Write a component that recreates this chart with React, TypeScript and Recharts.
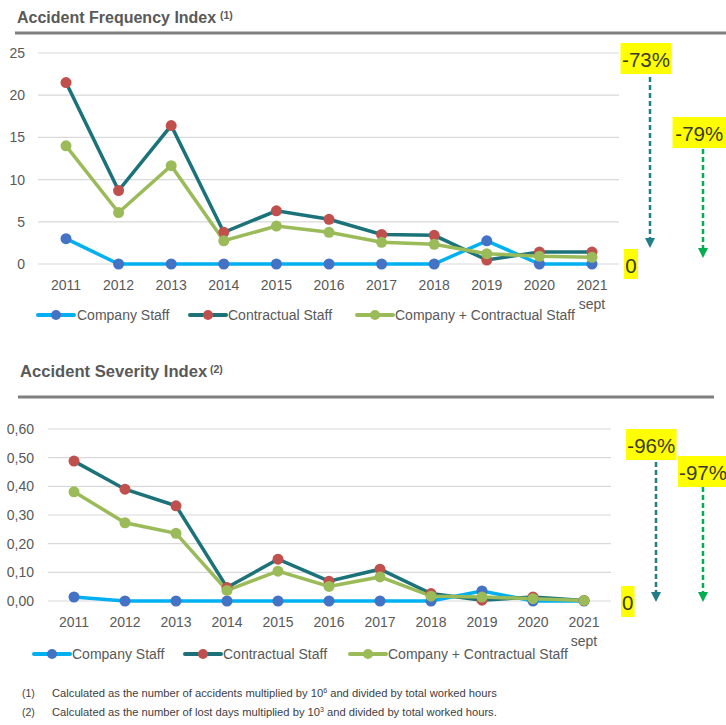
import React from 'react';
import { LineChart, Line, XAxis, YAxis, CartesianGrid } from 'recharts';

// ---------- data ----------
const years = ['2011', '2012', '2013', '2014', '2015', '2016', '2017', '2018', '2019', '2020', '2021'];
const yearSubLabels = ['', '', '', '', '', '', '', '', '', '', 'sept'];
const seriesNames = ['Company Staff', 'Contractual Staff', 'Company + Contractual Staff'];

const freqCompany = [3.0, 0, 0, 0, 0, 0, 0, 0, 2.75, 0, 0];
const freqContractual = [21.5, 8.7, 16.4, 3.75, 6.3, 5.3, 3.5, 3.4, 0.47, 1.42, 1.42];
const freqTotal = [14.0, 6.1, 11.65, 2.75, 4.5, 3.75, 2.57, 2.33, 1.22, 0.91, 0.8];
const freqTicks = [0, 5, 10, 15, 20, 25];

const sevCompany = [0.014, 0, 0, 0, 0, 0, 0, 0, 0.035, 0, 0];
const sevContractual = [0.488, 0.39, 0.332, 0.047, 0.146, 0.069, 0.111, 0.026, 0.003, 0.014, 0.002];
const sevTotal = [0.381, 0.273, 0.236, 0.037, 0.104, 0.051, 0.084, 0.017, 0.014, 0.008, 0.002];
const sevTicks = [0, 0.1, 0.2, 0.3, 0.4, 0.5, 0.6];

const freqTitle = 'Accident Frequency Index';
const sevTitle = 'Accident Severity Index';
const freqChanges = ['-73%', '-79%', '0'];
const sevChanges = ['-96%', '-97%', '0'];

// ---------- styles ----------
const FONT = '"Liberation Sans", Arial, sans-serif';
const TEXT = '#595959';
const C_COMPANY_LINE = '#00B0F0';
const C_COMPANY_DOT = '#4472C4';
const C_CONTR_LINE = '#1B7379';
const C_CONTR_DOT = '#C0504D';
const C_TOTAL = '#9BBB59';
const C_ARROW_TEAL = '#217D86';
const C_ARROW_GREEN = '#00B050';
const YELLOW = '#FFFF00';

const lineStyles = [
  { line: C_COMPANY_LINE, dot: C_COMPANY_DOT },
  { line: C_CONTR_LINE, dot: C_CONTR_DOT },
  { line: C_TOTAL, dot: C_TOTAL },
];

const freqData = years.map((y, i) => ({
  year: y,
  sub: yearSubLabels[i],
  company: freqCompany[i],
  contractual: freqContractual[i],
  total: freqTotal[i],
}));
const sevData = years.map((y, i) => ({
  year: y,
  sub: yearSubLabels[i],
  company: sevCompany[i],
  contractual: sevContractual[i],
  total: sevTotal[i],
}));
const keys = ['company', 'contractual', 'total'];

const YearTick = (props: any) => {
  const { x, y, payload, index } = props;
  const sub = yearSubLabels[index] || '';
  return (
    <g>
      <text x={x} y={y + 21} dy="0.35em" textAnchor="middle" fill={TEXT} fontSize={14} fontFamily={FONT}>
        {payload.value}
      </text>
      {sub ? (
        <text x={x} y={y + 40} dy="0.35em" textAnchor="middle" fill={TEXT} fontSize={14} fontFamily={FONT}>
          {sub}
        </text>
      ) : null}
    </g>
  );
};

const fmtComma = (v: number) => v.toFixed(2).replace('.', ',');

const renderLines = () =>
  keys.map((k, i) => (
    <Line
      key={k}
      type="linear"
      dataKey={k}
      name={seriesNames[i]}
      stroke={lineStyles[i].line}
      strokeWidth={3.5}
      dot={{ r: 5.5, fill: lineStyles[i].dot, stroke: 'none', strokeWidth: 0 }}
      activeDot={false}
      isAnimationActive={false}
    />
  ));

const LegendRow = ({ top, iconX, textX }: { top: number; iconX: number[]; textX: number[] }) => (
  <>
    {seriesNames.map((n, i) => (
      <React.Fragment key={n}>
        <svg style={{ position: 'absolute', left: iconX[i], top: top - 6 }} width={40} height={12}>
          <line x1={2} y1={6} x2={38} y2={6} stroke={lineStyles[i].line} strokeWidth={4} strokeLinecap="round" />
          <circle cx={20} cy={6} r={5} fill={lineStyles[i].dot} />
        </svg>
        <div
          style={{
            position: 'absolute',
            left: textX[i],
            top: top - 9,
            fontFamily: FONT,
            fontSize: 14,
            lineHeight: '18px',
            color: TEXT,
            whiteSpace: 'nowrap',
          }}
        >
          {n}
        </div>
      </React.Fragment>
    ))}
  </>
);

const Arrow = ({ x, y1, y2, color }: { x: number; y1: number; y2: number; color: string }) => (
  <g>
    <line x1={x} y1={y1} x2={x} y2={y2 - 9} stroke={color} strokeWidth={2.5} strokeDasharray="5 3" />
    <polygon points={`${x - 5},${y2 - 10} ${x + 5},${y2 - 10} ${x},${y2}`} fill={color} />
  </g>
);

const Badge = ({ x, y, w, h, text }: { x: number; y: number; w: number; h: number; text: string }) => (
  <g>
    <rect x={x} y={y} width={w} height={h} fill={YELLOW} />
    <text x={x + w / 2} y={y + 24} textAnchor="middle" fontSize={20.5} fontFamily={FONT} fill="#3A3A2A">
      {text}
    </text>
  </g>
);

export default function App() {
  return (
    <div style={{ position: 'absolute', left: 0, top: 0, width: 726, height: 725, background: '#fff', overflow: 'hidden' }}>
      {/* Top chart */}
      <div style={{ position: 'absolute', left: 0, top: 0 }}>
        <LineChart width={726} height={318} data={freqData} margin={{ top: 53, right: 107, left: 0, bottom: 0 }}>
          <CartesianGrid vertical={false} stroke="#D9D9D9" strokeWidth={1.2} />
          <XAxis
            dataKey="year"
            height={54}
            tickLine={false}
            axisLine={false}
            tickSize={0}
            tickMargin={0}
            interval={0}
            padding={{ left: 28, right: 27 }}
            tick={<YearTick />}
          />
          <YAxis
            width={38}
            domain={[0, 25]}
            ticks={freqTicks}
            tickLine={false}
            axisLine={false}
            tickSize={0}
            tickMargin={13}
            tick={{ fill: TEXT, fontSize: 14, fontFamily: FONT }}
          />
          {renderLines()}
        </LineChart>
      </div>

      {/* Bottom chart */}
      <div style={{ position: 'absolute', left: 0, top: 376 }}>
        <LineChart width={726} height={279} data={sevData} margin={{ top: 53, right: 115, left: 0, bottom: 0 }}>
          <CartesianGrid vertical={false} stroke="#D9D9D9" strokeWidth={1.2} />
          <XAxis
            dataKey="year"
            height={54}
            tickLine={false}
            axisLine={false}
            tickSize={0}
            tickMargin={0}
            interval={0}
            padding={{ left: 26, right: 27 }}
            tick={<YearTick />}
          />
          <YAxis
            width={48}
            domain={[0, 0.6]}
            ticks={sevTicks}
            tickFormatter={fmtComma}
            tickLine={false}
            axisLine={false}
            tickSize={0}
            tickMargin={14}
            tick={{ fill: TEXT, fontSize: 14, fontFamily: FONT }}
          />
          {renderLines()}
        </LineChart>
      </div>

      <LegendRow top={315} iconX={[36, 188, 355]} textX={[77, 228, 395]} />
      <LegendRow top={654} iconX={[32, 183, 348]} textX={[72, 223, 388]} />

      {/* Titles, badges, arrows, footnotes */}
      <svg style={{ position: 'absolute', left: 0, top: 0, pointerEvents: 'none' }} width={726} height={725}>
        <text x={17} y={23} fontSize={16} fontWeight="bold" fontFamily={FONT} fill={TEXT}>
          {freqTitle}
        </text>
        <text x={220} y={19} fontSize={10.5} fontWeight="bold" fontFamily={FONT} fill={TEXT}>
          (1)
        </text>
        <line x1={15} y1={33} x2={726} y2={33} stroke="#7F7F7F" strokeWidth={3} />

        <text x={20} y={377} fontSize={16.6} fontWeight="bold" fontFamily={FONT} fill={TEXT}>
          {sevTitle}
        </text>
        <text x={210} y={373} fontSize={10.5} fontWeight="bold" fontFamily={FONT} fill={TEXT}>
          (2)
        </text>
        <line x1={18} y1={397} x2={714} y2={397} stroke="#7F7F7F" strokeWidth={3} />

        <Badge x={620.5} y={43} w={51} h={31} text={freqChanges[0]} />
        <Badge x={672.5} y={117} w={53.5} h={31} text={freqChanges[1]} />
        <Badge x={624} y={249} w={14} h={30} text={freqChanges[2]} />
        <Arrow x={650} y1={77} y2={248} color={C_ARROW_TEAL} />
        <Arrow x={703} y1={149} y2={258} color={C_ARROW_GREEN} />

        <Badge x={626} y={429} w={50.5} h={31} text={sevChanges[0]} />
        <Badge x={678} y={456} w={50} h={31} text={sevChanges[1]} />
        <Badge x={621} y={586} w={13.5} h={31} text={sevChanges[2]} />
        <Arrow x={656} y1={462} y2={602} color={C_ARROW_TEAL} />
        <Arrow x={703} y1={487} y2={602} color={C_ARROW_GREEN} />

        <text x={22} y={697} fontSize={10.5} fontFamily={FONT} fill="#404040">(1)</text>
        <text x={52} y={697} fontSize={11.2} fontFamily={FONT} fill="#404040">
          Calculated as the number of accidents multiplied by 10
          <tspan fontSize={7} dy={-4}>6</tspan>
          <tspan dy={4}> and divided by total worked hours</tspan>
        </text>
        <text x={22} y={716} fontSize={10.5} fontFamily={FONT} fill="#404040">(2)</text>
        <text x={52} y={716} fontSize={11.2} fontFamily={FONT} fill="#404040">
          Calculated as the number of lost days multiplied by 10
          <tspan fontSize={7} dy={-4}>3</tspan>
          <tspan dy={4}> and divided by total worked hours.</tspan>
        </text>
      </svg>
    </div>
  );
}
